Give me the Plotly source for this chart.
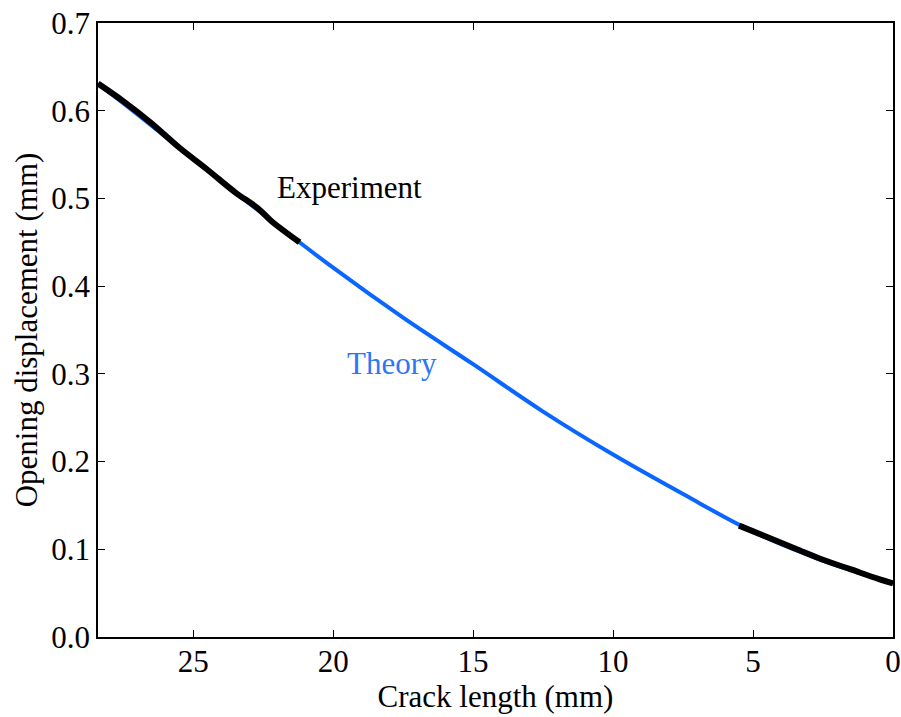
import plotly.graph_objects as go

# Theory curve
theory_x = [28.4, 27.0, 25.0, 22.5, 20.0, 17.5, 15.0, 12.5, 10.0, 7.5, 5.0, 2.5, 0.0]
theory_y = [0.631, 0.596, 0.545, 0.482, 0.421, 0.364, 0.311, 0.257, 0.208, 0.163, 0.120, 0.087, 0.061]

# Experiment segments
exp1_x = [28.4, 27.5, 26.5, 25.5, 24.5, 23.5, 22.7, 22.2, 21.2]
exp1_y = [0.631, 0.611, 0.586, 0.558, 0.533, 0.507, 0.489, 0.474, 0.450]
exp2_x = [5.5, 4.5, 3.5, 2.5, 1.5, 0.5, 0.0]
exp2_y = [0.127, 0.114, 0.101, 0.088, 0.077, 0.066, 0.061]

BLUE = "#0a66ff"
FONT = "Liberation Serif"

fig = go.Figure()
fig.add_trace(go.Scatter(x=theory_x, y=theory_y, mode="lines",
                         line=dict(color=BLUE, width=4, shape="spline"),
                         showlegend=False))
fig.add_trace(go.Scatter(x=exp1_x, y=exp1_y, mode="lines",
                         line=dict(color="black", width=6, shape="spline"), showlegend=False))
fig.add_trace(go.Scatter(x=exp2_x, y=exp2_y, mode="lines",
                         line=dict(color="black", width=6, shape="spline"), showlegend=False))

fig.add_annotation(x=19.4, y=0.513, text="Experiment", showarrow=False,
                   font=dict(family=FONT, size=31, color="black"))
fig.add_annotation(x=17.9, y=0.312, text="Theory", showarrow=False,
                   font=dict(family=FONT, size=31, color="#2a78f5"))

axis_common = dict(showline=True, linecolor="black", linewidth=1.5, mirror="ticks",
                   ticks="inside", ticklen=7, tickwidth=1, tickcolor="black",
                   showgrid=False, zeroline=False,
                   tickfont=dict(family=FONT, size=31, color="black"))

fig.update_xaxes(range=[28.4, 0], tickvals=[25, 20, 15, 10, 5, 0],
                 ticklabelstandoff=-4,
                 title=dict(text="Crack length (mm)", font=dict(family=FONT, size=31, color="black"), standoff=0),
                 **axis_common)
fig.update_yaxes(range=[0, 0.7], tickvals=[0, 0.1, 0.2, 0.3, 0.4, 0.5, 0.6, 0.7],
                 tickformat=".1f",
                 title=dict(text="Opening displacement (mm)", font=dict(family=FONT, size=31, color="black"), standoff=4),
                 **axis_common)

fig.update_layout(width=901, height=717, plot_bgcolor="white", paper_bgcolor="white",
                  margin=dict(l=98, r=8, t=23, b=80, autoexpand=False))

fig.write_html("out.html")
